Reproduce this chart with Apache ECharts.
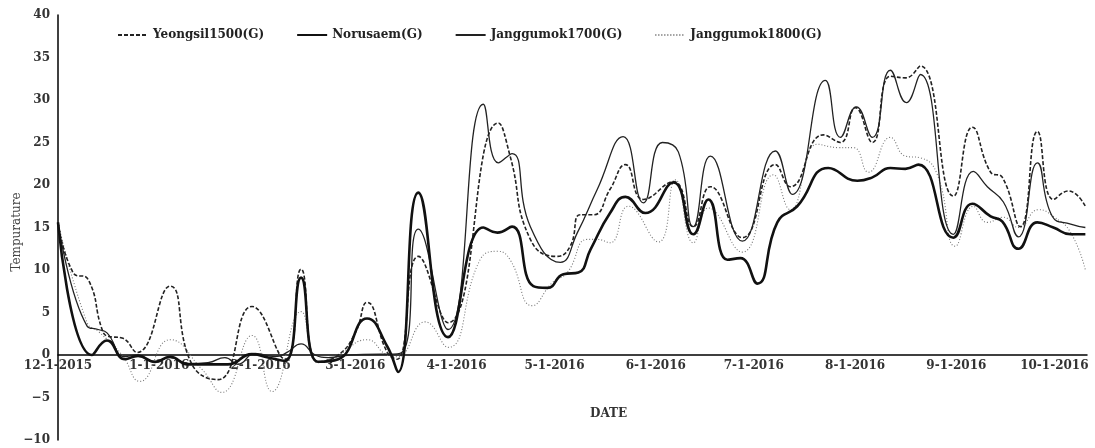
<!DOCTYPE html>
<html>
<head>
<meta charset="utf-8">
<script src="https://cdn.jsdelivr.net/npm/echarts@6/dist/echarts.min.js"></script>
<style>html,body{margin:0;padding:0;background:#fff}#c{width:1095px;height:448px}</style>
</head>
<body>
<div id="c"></div>
<script>
// x values are days since 12-1-2015
const tickDays = [0, 31, 62, 91, 122, 152, 183, 213, 244, 275, 305];
const tickLabels = ['12-1-2015','1-1-2016','2-1-2016','3-1-2016','4-1-2016','5-1-2016','6-1-2016','7-1-2016','8-1-2016','9-1-2016','10-1-2016'];
const yTicks = [-10, -5, 0, 5, 10, 15, 20, 25, 30, 35, 40];
const seriesNames = ['Yeongsil1500(G)', 'Norusaem(G)', 'Janggumok1700(G)', 'Janggumok1800(G)'];

const yeongsilDays = [0,4.6,9.2,13.5,15.3,19.6,24.2,34.3,41,49,59.4,69.5,74.4,79.6,85.8,91,94.6,100.8,103.8,110.3,119.4,134.8,138.4,144.6,152.8,156.8,159.9,163.9,169,173.7,179.2,188.4,194.5,199.7,209.5,219.6,224.2,234.3,239.5,244.1,249.3,254.8,259.4,264,274.1,279.9,285.5,289.1,294.6,299.8,304.7,309.3,314.5];
const yeongsilTemps = [15.6,9.7,8.9,3.0,2.2,2.0,0.3,8.1,-1.1,-2.9,5.7,-0.5,10.1,-0.8,0,2.6,6.2,0.3,-0.5,11.6,3.8,27.3,23.4,13.6,11.6,12.8,16.5,16.5,19.5,22.4,18.3,20.4,15.1,19.8,13.8,22.4,19.8,25.9,25.0,29.1,25.0,32.8,32.6,34.0,18.7,26.8,21.5,20.9,15.1,26.3,18.3,19.3,17.5];

const norusaemDays = [0,10.4,15,20.5,24.5,29.7,34.3,39.8,52,59.4,64.3,69.5,74.4,79.6,85.8,94.6,100.8,104.1,110.3,119.4,130.2,134.5,139,145.5,149.8,154.7,159.3,163,169,173.7,179.8,188.4,194.5,199.1,204.9,208.9,214.1,220.2,226.3,235.8,244.7,249.3,254.8,259.4,263.4,274.1,279.9,285.5,289.1,294,299.8,304.7,310,314.5];
const norusaemTemps = [15.6,0,1.7,-0.5,-0.1,-0.8,-0.2,-1.1,-1.1,0.1,-0.3,-0.7,9.1,-0.8,-0.5,4.3,1.0,-2.0,19.1,2.1,15.0,14.4,15.1,8.1,7.9,9.5,9.7,12.4,16.7,18.6,16.7,20.3,14.2,18.3,11.2,11.4,8.4,15.6,17.5,22.0,20.5,20.9,22.0,21.9,22.4,13.8,17.8,16.3,15.7,12.5,15.6,15.0,14.2,14.2];

const j1700Days = [0,8.9,12.3,15,20.5,24.2,29.7,34.3,39.8,45.9,51.1,55.1,60.3,66.5,70.1,74.4,78.7,82.7,89.4,104.7,110.3,119.4,130.2,134.8,139,144.6,153.8,159,165.1,173,179.2,185,189.9,194.5,199.7,209.5,219.6,224.8,234.9,239.5,244.4,249.3,254.8,259.7,264,274.1,280.2,284.5,289.4,294,299.8,304.4,310,314.5];
const j1700Temps = [15.6,3.4,3.0,2.6,-0.2,0,-0.9,-0.3,-1.0,-0.9,-0.3,-1.1,0.2,-0.2,0.3,1.3,0,-0.3,0,0.2,14.8,3.0,29.5,22.6,23.7,15.1,10.9,14.4,19.5,25.7,17.9,25.0,23.9,15.1,23.4,13.4,24.0,18.9,32.3,25.6,29.2,25.6,33.5,29.7,33.0,14.2,21.6,19.8,18.0,13.9,22.6,16.3,15.4,15.0];

const j1800Days = [0,8.9,12.3,19.6,25.1,34.3,44.1,50.2,59.4,65.5,74.4,79.6,85.8,94.6,100.8,103.8,112.4,119.4,129.2,134.5,138.4,145.2,151.3,155.9,162,165.1,169,174.6,183.8,189,194.5,199.1,209.5,219,224.2,232.5,238.9,243.5,248.1,254.8,259.4,264,269.2,274.7,280.2,284.5,289.4,294,300.2,304.7,310,314.5];
const j1800Temps = [15.6,3.8,2.8,0,-3.1,1.8,-1.7,-4.4,2.3,-4.3,5.1,-0.9,0,1.8,0,-0.2,3.9,0.9,11.2,12.2,11.2,5.8,8.5,9.7,13.6,13.6,13.2,17.5,13.3,20.6,13.2,17.3,12.1,21.2,17.1,24.8,24.4,24.4,21.5,25.6,23.4,23.2,21.2,12.8,17.5,15.6,16.2,15.0,17.1,16.3,14.4,10.0];

function pairs(xs, ys) { return xs.map((x, i) => [x, ys[i]]); }

const FONT = 'DejaVu Serif';
const chart = echarts.init(document.getElementById('c'), null, {renderer: 'canvas'});
chart.setOption({
  animation: false,
  backgroundColor: '#fff',
  grid: {left: 58, right: 8, top: 15, bottom: 8, containLabel: false, outerBoundsMode: 'none'},
  legend: {
    left: 112, top: 24, itemWidth: 30, itemHeight: 12, itemGap: 32,
    data: seriesNames,
    itemStyle: {opacity: 0},
    textStyle: {fontFamily: FONT, fontSize: 12, fontWeight: 'bold', color: '#222'}
  },
  xAxis: {
    type: 'value', min: 0, max: 315, position: 'bottom', offset: -85,
    axisLine: {onZero: false, lineStyle: {color: '#000', width: 1.5}},
    axisTick: {show: false},
    splitLine: {show: false},
    axisLabel: {
      customValues: tickDays,
      margin: 5,
      formatter: v => { const i = tickDays.indexOf(v); return i >= 0 ? tickLabels[i] : ''; },
      fontFamily: FONT, fontSize: 12, fontWeight: 'bold', color: '#333'
    }
  },
  yAxis: {
    type: 'value', min: -10, max: 40, interval: 5,
    axisLine: {show: true, onZero: false, lineStyle: {color: '#000', width: 1.5}},
    axisTick: {show: false},
    splitLine: {show: false},
    axisLabel: {
      customValues: yTicks, margin: 8,
      formatter: v => String(v).replace('-', '\u2212'),
      fontFamily: FONT, fontSize: 12, fontWeight: 'bold', color: '#333'
    }
  },
  graphic: [{
    type: 'text', left: 590, top: 408,
    style: {text: 'DATE', font: 'bold 12px "DejaVu Serif"', fill: '#333'}
  }, {
    type: 'text', x: 17, y: 232, rotation: Math.PI / 2,
    style: {text: 'Tempurature', font: '12px "DejaVu Serif"', fill: '#444', align: 'center', verticalAlign: 'middle'}
  }],
  series: [
    {name: seriesNames[0], type: 'line', smooth: 0.5, symbol: 'none',
     lineStyle: {color: '#222', width: 1.6, type: [4, 2]}, itemStyle: {color: '#222'},
     data: pairs(yeongsilDays, yeongsilTemps), z: 3},
    {name: seriesNames[1], type: 'line', smooth: 0.5, symbol: 'none',
     lineStyle: {color: '#111', width: 2.6, type: 'solid'}, itemStyle: {color: '#111'},
     data: pairs(norusaemDays, norusaemTemps), z: 4},
    {name: seriesNames[2], type: 'line', smooth: 0.5, symbol: 'none',
     lineStyle: {color: '#222', width: 1.3, type: 'solid'}, itemStyle: {color: '#222'},
     data: pairs(j1700Days, j1700Temps), z: 3},
    {name: seriesNames[3], type: 'line', smooth: 0.5, symbol: 'none',
     lineStyle: {color: '#777', width: 1.1, type: [1, 2]}, itemStyle: {color: '#777'},
     data: pairs(j1800Days, j1800Temps), z: 2}
  ]
});
</script>
</body>
</html>
